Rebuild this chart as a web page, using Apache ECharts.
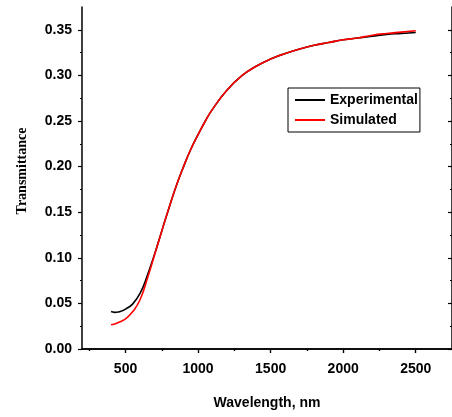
<!DOCTYPE html>
<html>
<head>
<meta charset="utf-8">
<script src="https://cdn.jsdelivr.net/npm/echarts@6/dist/echarts.min.js"></script>
<style>
  html, body { margin: 0; padding: 0; background: #fff; }
  #chart { width: 452px; height: 417px; }
</style>
</head>
<body>
<div id="chart"></div>
<script>
// Wavelength samples (nm)
const wavelength = [400, 425, 450, 475, 500, 550, 600, 650, 700, 750, 800, 850, 900, 950, 1000, 1050,
  1100, 1200, 1300, 1400, 1500, 1600, 1700, 1800, 1900, 2000, 2100, 2200, 2300, 2400, 2500];
// Measured transmittance
const experimental = [0.0410, 0.0402, 0.0405, 0.0418, 0.0437, 0.0495, 0.0610, 0.0805, 0.1040, 0.1295,
  0.1550, 0.1790, 0.2000, 0.2190, 0.2350, 0.2500, 0.2630, 0.2840, 0.2995, 0.3100, 0.3180, 0.3240,
  0.3290, 0.3330, 0.3360, 0.3390, 0.3410, 0.3430, 0.3450, 0.3460, 0.3470];
// Simulated transmittance
const simulated = [0.0265, 0.0275, 0.0290, 0.0308, 0.0330, 0.0410, 0.0540, 0.0770, 0.1030, 0.1295,
  0.1550, 0.1790, 0.2000, 0.2190, 0.2350, 0.2500, 0.2630, 0.2840, 0.2995, 0.3100, 0.3180, 0.3240,
  0.3290, 0.3330, 0.3360, 0.3390, 0.3410, 0.3440, 0.3460, 0.3475, 0.3490];

const xTicks = [500, 1000, 1500, 2000, 2500];
const xMinorTicks = [250, 750, 1250, 1750, 2250];
const yTicks = [0, 0.05, 0.10, 0.15, 0.20, 0.25, 0.30, 0.35];
const yMinorTicks = [0.025, 0.075, 0.125, 0.175, 0.225, 0.275, 0.325];

const X_MIN = 200, X_MAX = 2750, Y_MIN = 0, Y_MAX = 0.375;
const AXIS_COLOR = '#000';
const FONT = 'Liberation Sans, Arial, sans-serif';

function xAxisDef(position, values, len, withLine, withLabels, inside) {
  return {
    type: 'value', position: position, min: X_MIN, max: X_MAX,
    axisLine: { show: withLine, lineStyle: { color: AXIS_COLOR, width: 1.5 } },
    axisTick: { show: true, customValues: values, inside: inside, length: len,
      lineStyle: { color: AXIS_COLOR, width: 1.2 } },
    axisLabel: withLabels ? { show: true, customValues: values, margin: 13,
      formatter: v => String(v),
      color: '#000', fontFamily: FONT, fontWeight: 'bold', fontSize: 14 } : { show: false },
    splitLine: { show: false }
  };
}
function yAxisDef(position, values, len, withLine, withLabels, inside) {
  return {
    type: 'value', position: position, min: Y_MIN, max: Y_MAX,
    axisLine: { show: withLine, lineStyle: { color: AXIS_COLOR, width: 1.5 } },
    axisTick: { show: true, customValues: values, inside: inside, length: len,
      lineStyle: { color: AXIS_COLOR, width: 1.2 } },
    axisLabel: withLabels ? { show: true, customValues: values, margin: 10,
      formatter: v => v.toFixed(2),
      color: '#000', fontFamily: FONT, fontWeight: 'bold', fontSize: 14 } : { show: false },
    splitLine: { show: false }
  };
}

const xMain = xAxisDef('bottom', xTicks, 4, true, true, false);
xMain.name = 'Wavelength, nm';
xMain.nameLocation = 'middle';
xMain.nameGap = 47;
xMain.nameTextStyle = { color: '#000', fontFamily: FONT, fontWeight: 'bold', fontSize: 14 };

const yMain = yAxisDef('left', yTicks, 4, true, true, false);
yMain.name = 'Transmittance';
yMain.nameLocation = 'middle';
yMain.nameGap = 53;
yMain.nameRotate = 90;
yMain.nameTextStyle = { color: '#000', fontFamily: 'Liberation Serif, Times New Roman, serif',
  fontWeight: 'bold', fontSize: 14, padding: [0, 0, 0, 14] };

const chart = echarts.init(document.getElementById('chart'), null, { renderer: 'canvas' });
chart.setOption({
  animation: false,
  backgroundColor: '#fff',
  grid: { left: 82, top: 7, width: 372, height: 342, containLabel: false },
  legend: {
    orient: 'vertical', left: 288, top: 88,
    itemWidth: 30, itemHeight: 14, itemGap: 6,
    padding: [5, 2, 5, 6],
    borderColor: '#000', borderWidth: 1,
    itemStyle: { opacity: 0 },
    textStyle: { color: '#000', fontFamily: FONT, fontWeight: 'bold', fontSize: 14 },
    data: ['Experimental', 'Simulated']
  },
  xAxis: [
    xMain,
    xAxisDef('bottom', xMinorTicks, 2, false, false, false),
    xAxisDef('top', xTicks, 4, true, false, true),
    xAxisDef('top', xMinorTicks, 2, false, false, true)
  ],
  yAxis: [
    yMain,
    yAxisDef('left', yMinorTicks, 2, false, false, false),
    yAxisDef('right', yTicks, 4, true, false, true),
    yAxisDef('right', yMinorTicks, 2, false, false, true)
  ],
  series: [
    {
      name: 'Experimental', type: 'line', xAxisIndex: 0, yAxisIndex: 0,
      data: wavelength.map((w, i) => [w, experimental[i]]),
      smooth: 0.5, symbol: 'none',
      lineStyle: { color: '#000', width: 1.6 }, itemStyle: { color: '#000' }
    },
    {
      name: 'Simulated', type: 'line', xAxisIndex: 0, yAxisIndex: 0,
      data: wavelength.map((w, i) => [w, simulated[i]]),
      smooth: 0.5, symbol: 'none',
      lineStyle: { color: '#ff0000', width: 1.6 }, itemStyle: { color: '#ff0000' }
    }
  ]
});
</script>
</body>
</html>
